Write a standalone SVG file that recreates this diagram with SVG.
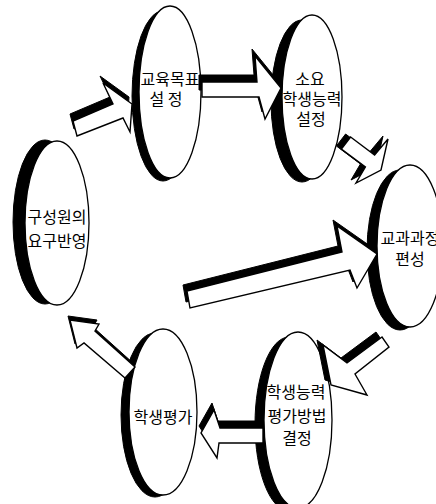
<svg xmlns="http://www.w3.org/2000/svg" width="436" height="504" viewBox="0 0 436 504">
<style>
.bg{fill:#fff}
.face{fill:#fff;stroke:#000;stroke-width:1.3;stroke-linejoin:round}
.side{fill:#000;stroke:#000;stroke-width:1}
.af{fill:#fff;stroke:#000;stroke-width:1.4;stroke-linejoin:miter}
.as{fill:#000;stroke:#000;stroke-width:1}
text{font-family:"Noto Sans CJK KR","Noto Sans",sans-serif;font-size:16px;fill:#000;text-anchor:middle;dominant-baseline:central}
</style>
<rect class="bg" x="0" y="0" width="436" height="504"/>
<g id="node-goal">
<ellipse class="side" cx="163" cy="96" rx="31" ry="85"/>
<ellipse class="face" cx="170" cy="92" rx="31" ry="86"/>
<text x="170" y="78">교육목표</text>
<text x="166" y="98">설 정</text>
</g>
<g id="node-ability">
<ellipse class="side" cx="302" cy="101" rx="31" ry="81"/>
<ellipse class="face" cx="312" cy="97" rx="30" ry="82"/>
<text x="310" y="78">소요</text>
<text x="312" y="98">학생능력</text>
<text x="311" y="118">설정</text>
</g>
<g id="node-curriculum">
<ellipse class="side" cx="400" cy="250" rx="33" ry="80"/>
<ellipse class="face" cx="410" cy="246" rx="33" ry="81"/>
<text x="410" y="237">교과과정</text>
<text x="410" y="258">편성</text>
</g>
<g id="node-method">
<ellipse class="side" cx="289" cy="424" rx="34" ry="87"/>
<ellipse class="face" cx="298" cy="420" rx="34" ry="88"/>
<text x="296" y="391">학생능력</text>
<text x="297" y="415">평가방법</text>
<text x="297" y="437">결정</text>
</g>
<g id="node-eval">
<ellipse class="side" cx="155" cy="415" rx="34" ry="82"/>
<ellipse class="face" cx="163" cy="412" rx="34" ry="83"/>
<text x="163" y="416">학생평가</text>
</g>
<g id="node-needs">
<ellipse class="side" cx="45" cy="222" rx="32" ry="82"/>
<ellipse class="face" cx="57" cy="223" rx="32" ry="82"/>
<text x="57" y="216">구성원의</text>
<text x="57" y="240">요구반영</text>
</g>
<g id="connectors">
<g id="arrow-needs-goal">
<polygon class="as" transform="translate(-3,-7)" points="73,121 113,104 103,83 132,104 130,132 123,118 77,136"/>
<polygon class="af" points="73,121 113,104 103,83 132,104 130,132 123,118 77,136"/>
</g>
<g id="arrow-goal-ability">
<polygon class="as" transform="translate(-3,-7)" points="202,82 257,82 255,56 281,88 265,119 259,97 202,97"/>
<polygon class="af" points="202,82 257,82 255,56 281,88 265,119 259,97 202,97"/>
</g>
<g id="arrow-ability-curriculum">
<polygon class="as" transform="translate(-5,-3)" points="350.6,137 374.6,155 388,139 381,170 356,183 365.4,167 341.4,149"/>
<polygon class="af" points="350.6,137 374.6,155 388,139 381,170 356,183 365.4,167 341.4,149"/>
</g>
<g id="arrow-big">
<polygon class="as" transform="translate(-4,-6)" points="187,291 342,252 337,226 377,254 357,288 350,270 190,308"/>
<polygon class="af" points="187,291 342,252 337,226 377,254 357,288 350,270 190,308"/>
</g>
<g id="arrow-curriculum-method">
<polygon class="as" transform="translate(-6,-5)" points="382,337 347,363 323,345 331,385 367,395 355,374 389,347"/>
<polygon class="af" points="382,337 347,363 323,345 331,385 367,395 355,374 389,347"/>
</g>
<g id="arrow-method-eval">
<polygon class="as" transform="translate(-2,-7)" points="263,428 220,428 214,410 201,433 217,458 219,443 263,443"/>
<polygon class="af" points="263,428 220,428 214,410 201,433 217,458 219,443 263,443"/>
</g>
<g id="arrow-eval-needs">
<polygon class="as" transform="translate(-2,-4)" points="135,367 95,331 99,324 70,320 77,348 84,343 125,378"/>
<polygon class="af" points="135,367 95,331 99,324 70,320 77,348 84,343 125,378"/>
</g>
</g>
</svg>
